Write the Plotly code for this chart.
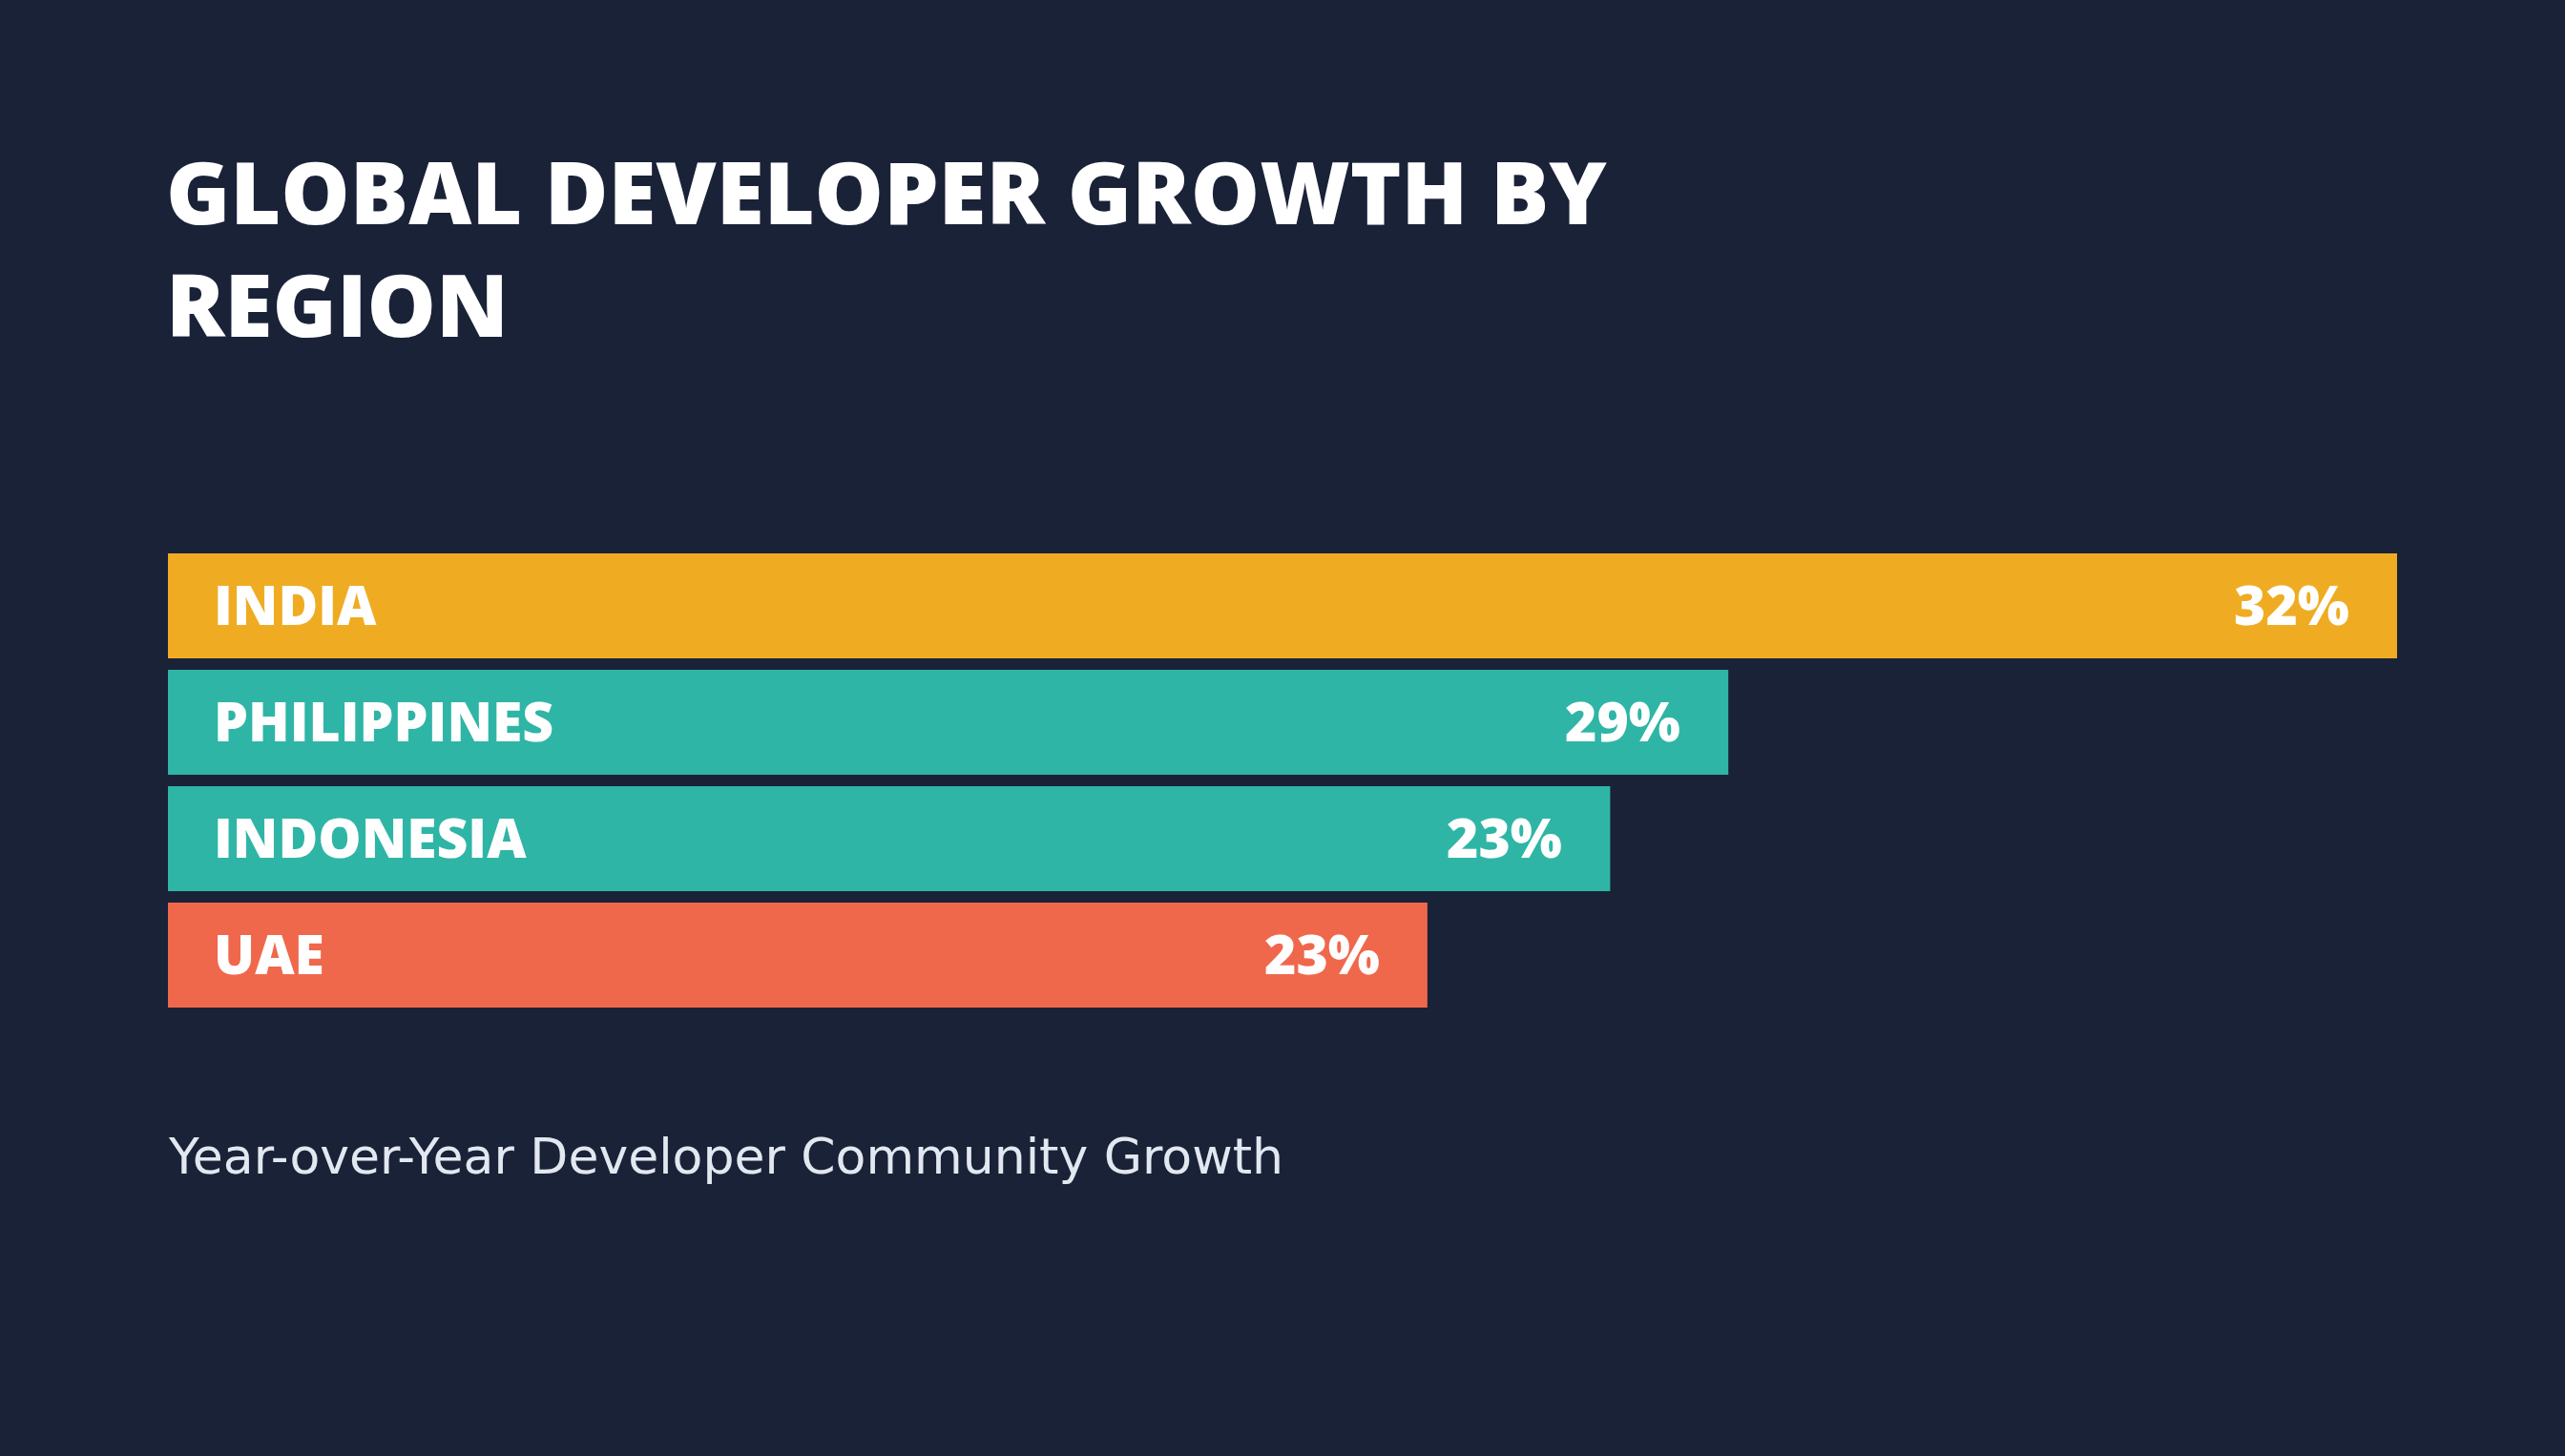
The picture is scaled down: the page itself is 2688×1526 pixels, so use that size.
import plotly.graph_objects as go

# Data
regions = ["INDIA", "PHILIPPINES", "INDONESIA", "UAE"]
growth_labels = ["32%", "29%", "23%", "23%"]
bar_lengths = [100, 70.0, 64.7, 56.5]  # relative bar length as drawn
bar_colors = ["#EFAC23", "#2FB5A6", "#2FB5A6", "#F0684C"]

title_text = "GLOBAL DEVELOPER GROWTH BY<br>REGION"
subtitle = "Year-over-Year Developer Community Growth"

BG = "#1A2238"
W, H = 2688, 1526
L, R, T, B = 176, 176, 574, 464
PW, PH = W - L - R, H - T - B


def px(x):
    return (x - L) / PW


def py(y):
    return 1 - (y - T) / PH


fig = go.Figure()
fig.add_trace(go.Bar(
    y=regions, x=bar_lengths, orientation="h",
    marker=dict(color=bar_colors, line=dict(width=0)),
    hoverinfo="skip", showlegend=False,
))

lab_font = dict(family="Open Sans", size=57, color="white", weight=800)
annotations = []
for r, v, t in zip(regions, bar_lengths, growth_labels):
    annotations.append(dict(x=0, y=r, xref="x", yref="y", text=r, showarrow=False,
                            xanchor="left", yanchor="middle", xshift=46, yshift=2,
                            font=lab_font))
    annotations.append(dict(x=v, y=r, xref="x", yref="y", text=t, showarrow=False,
                            xanchor="right", yanchor="middle", xshift=-48, yshift=2,
                            font=lab_font))

annotations.append(dict(x=px(172), y=py(259), xref="paper", yref="paper",
                        text=title_text, showarrow=False, xanchor="left", yanchor="middle",
                        align="left",
                        font=dict(family="Open Sans", size=91, color="white", weight=800)))

annotations.append(dict(x=px(174), y=py(1212), xref="paper", yref="paper",
                        text=subtitle, showarrow=False, xanchor="left", yanchor="middle",
                        font=dict(family="DejaVu Sans", size=52, color="#E2E8F0")))

fig.update_layout(
    width=W, height=H,
    paper_bgcolor=BG, plot_bgcolor=BG,
    margin=dict(l=L, r=R, t=T, b=B),
    bargap=12 / 122,
    xaxis=dict(range=[0, 100], visible=False, fixedrange=True),
    yaxis=dict(autorange="reversed", visible=False, fixedrange=True),
    annotations=annotations,
)

fig.write_html("out.html", config={"displayModeBar": False})
